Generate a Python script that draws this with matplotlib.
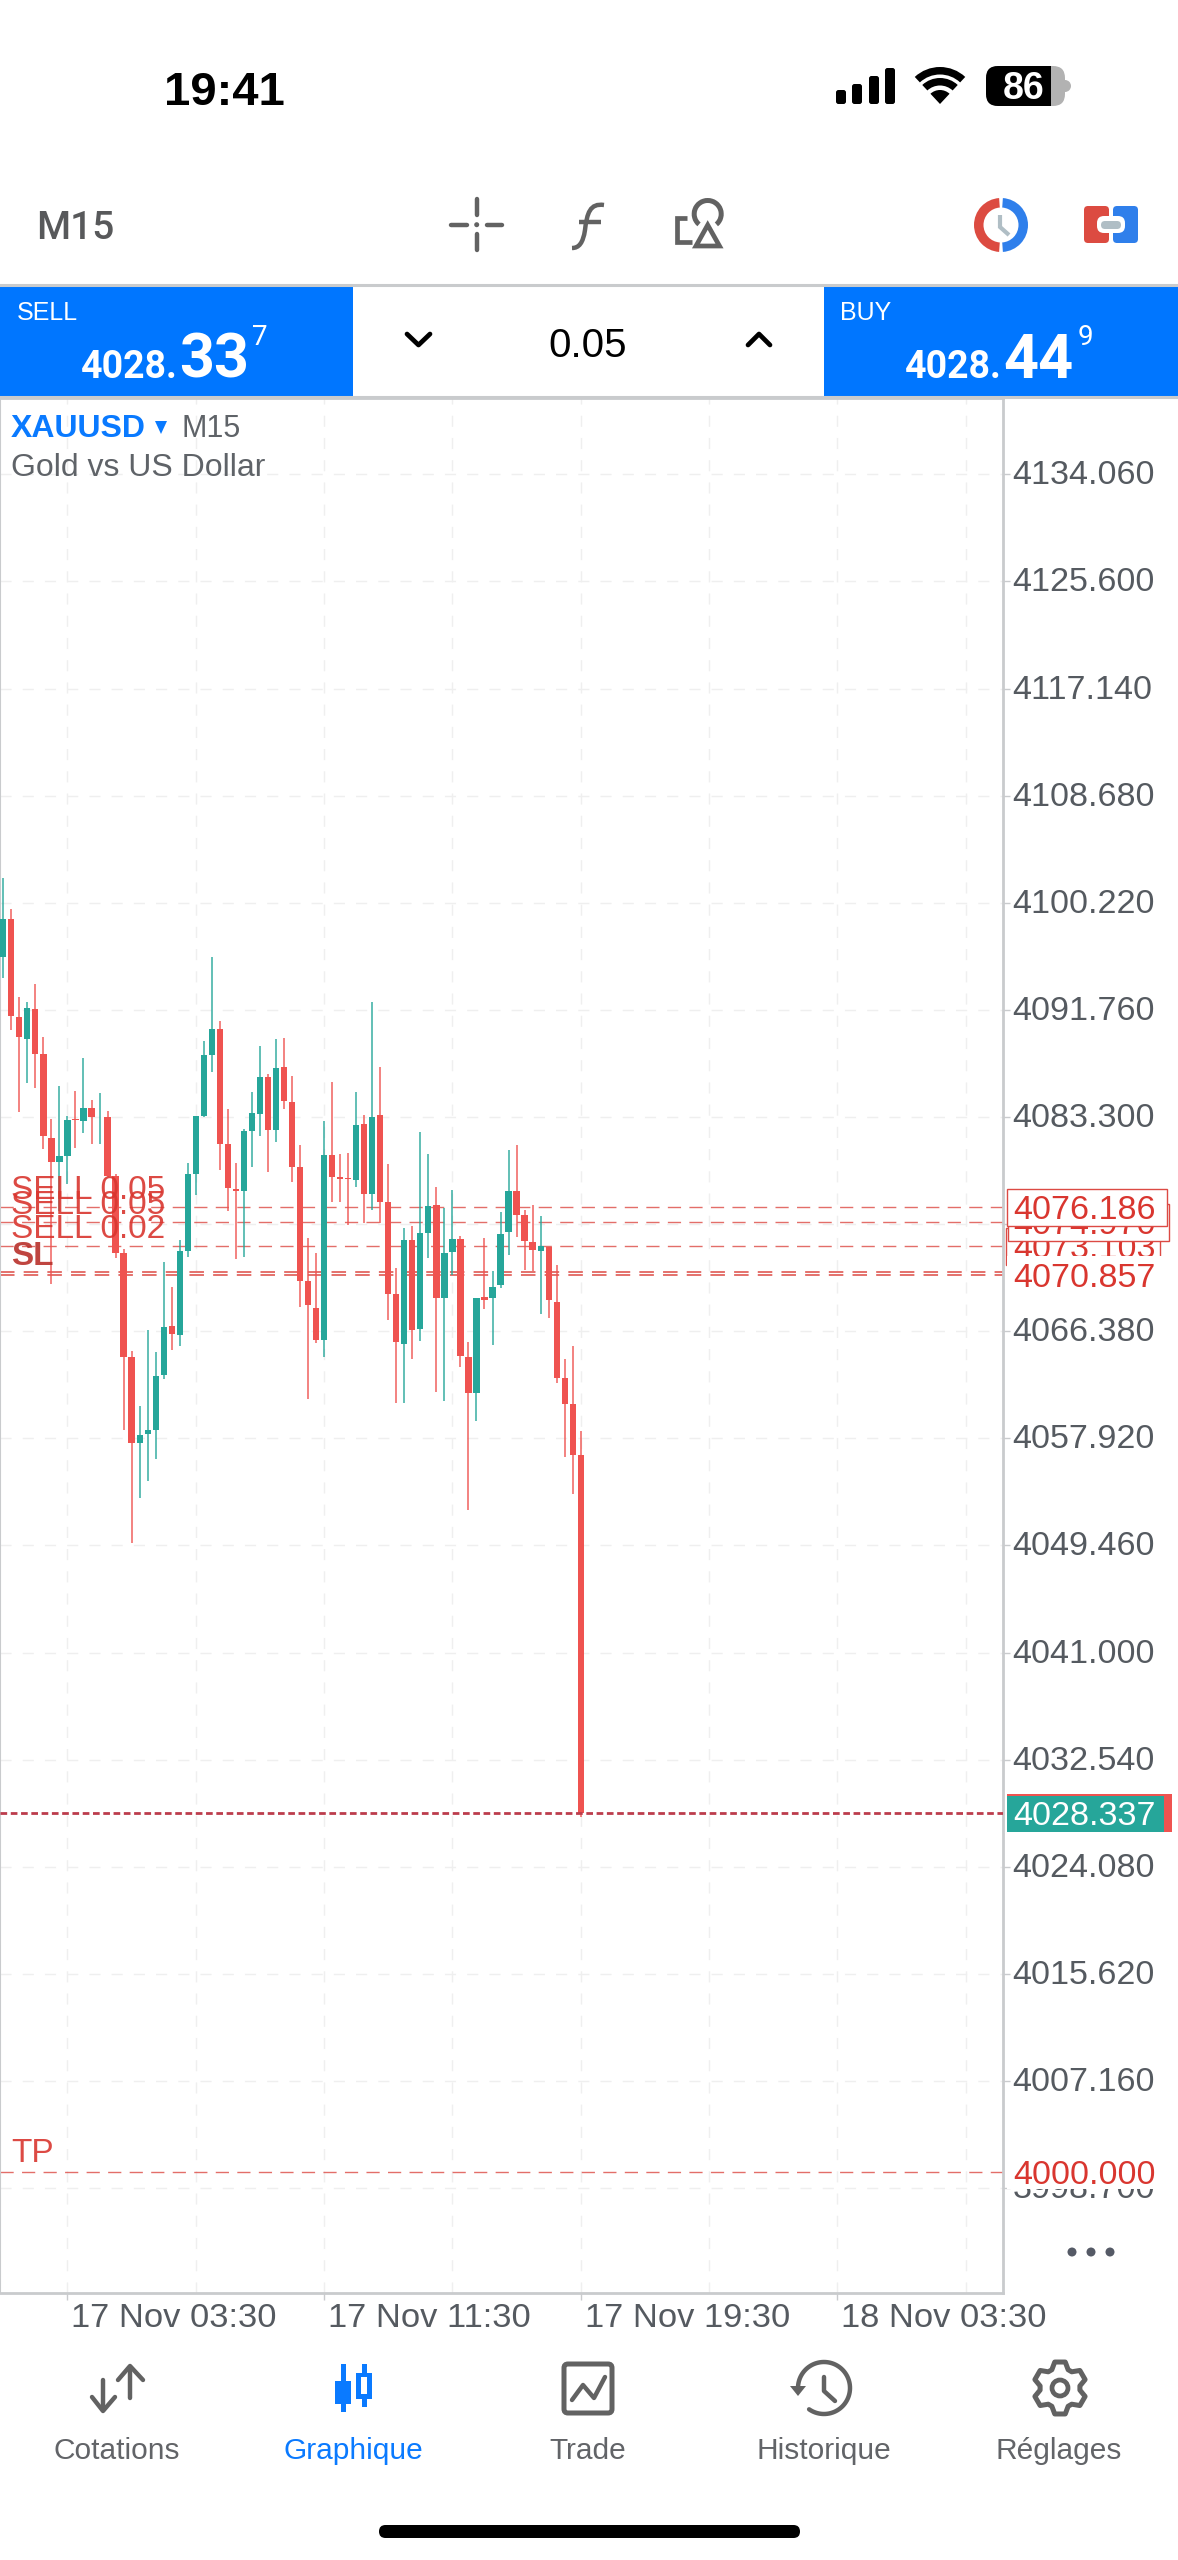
import numpy as np
import matplotlib
matplotlib.use('Agg')
import matplotlib.pyplot as plt
from matplotlib.patches import Rectangle, FancyBboxPatch, Wedge, Circle, Polygon, PathPatch
from matplotlib.path import Path
from matplotlib.transforms import blended_transform_factory, ScaledTranslation

plt.rcParams['font.family'] = ['Liberation Sans', 'DejaVu Sans']

OUTPUT_IMG = "out.png"
W, H = 1178, 2560

opens = [4095.90, 4098.95, 4091.18, 4089.47, 4091.83, 4088.31, 4081.67, 4079.78, 4080.25, 4083.15,
         4082.97, 4083.99, 4083.34, 4083.30, 4078.62, 4072.52, 4064.38, 4057.52, 4058.28, 4058.57,
         4062.93, 4066.78, 4066.09, 4072.73, 4078.76, 4083.34, 4088.20, 4090.23, 4081.16, 4077.60,
         4077.45, 4082.17, 4083.52, 4086.42, 4082.25, 4087.26, 4084.45, 4079.37, 4070.31, 4068.22,
         4065.72, 4080.33, 4078.52, 4078.46, 4078.34, 4082.74, 4077.21, 4083.46, 4076.56, 4069.31,
         4065.38, 4073.59, 4066.53, 4074.12, 4076.34, 4068.97, 4072.65, 4073.65, 4064.35, 4061.51,
         4069.06, 4068.97, 4070.03, 4074.18, 4077.46, 4075.56, 4073.43, 4072.68, 4073.03, 4068.72,
         4062.66, 4060.66, 4056.61]
highs = [4102.14, 4099.75, 4092.78, 4092.41, 4093.79, 4089.65, 4083.12, 4085.77, 4083.41, 4085.37,
         4087.98, 4084.61, 4085.22, 4083.77, 4078.76, 4072.88, 4064.82, 4060.46, 4066.49, 4064.75,
         4071.86, 4069.90, 4073.60, 4079.63, 4083.41, 4089.29, 4095.97, 4090.85, 4083.95, 4079.63,
         4082.39, 4085.26, 4088.89, 4086.68, 4089.44, 4089.51, 4086.55, 4081.11, 4073.78, 4072.53,
         4082.96, 4086.08, 4080.36, 4080.49, 4085.30, 4083.46, 4092.35, 4087.26, 4079.58, 4071.34,
         4074.53, 4074.68, 4082.11, 4080.36, 4077.80, 4076.09, 4077.55, 4073.93, 4065.50, 4069.03,
         4073.75, 4071.12, 4075.78, 4080.71, 4081.11, 4075.93, 4076.34, 4075.46, 4073.06, 4071.59,
         4064.22, 4065.19, 4058.51]
lows = [4094.30, 4090.16, 4083.70, 4085.95, 4085.62, 4080.79, 4070.08, 4075.89, 4078.00, 4080.87,
        4082.07, 4081.16, 4081.16, 4078.54, 4072.15, 4058.57, 4049.68, 4053.20, 4054.58, 4056.25,
        4062.57, 4064.89, 4065.18, 4072.26, 4077.16, 4083.30, 4086.89, 4079.09, 4075.89, 4072.08,
        4072.26, 4079.34, 4081.81, 4078.98, 4081.30, 4083.92, 4078.15, 4068.31, 4061.04, 4065.41,
        4064.32, 4076.59, 4076.62, 4074.78, 4077.80, 4074.93, 4075.93, 4074.93, 4067.28, 4060.73,
        4060.73, 4064.16, 4065.57, 4072.19, 4061.57, 4060.88, 4070.81, 4063.54, 4052.27, 4059.32,
        4068.16, 4065.25, 4069.78, 4072.37, 4073.84, 4071.25, 4071.12, 4067.75, 4067.44, 4062.29,
        4056.42, 4053.55, 4028.00]
closes = [4098.95, 4091.25, 4089.58, 4091.87, 4088.31, 4081.81, 4079.78, 4080.25, 4083.08, 4083.08,
          4083.99, 4083.30, 4083.41, 4078.62, 4072.52, 4064.31, 4057.56, 4058.21, 4058.61, 4062.82,
          4066.71, 4066.13, 4072.73, 4078.76, 4083.34, 4088.20, 4090.23, 4081.16, 4077.67, 4077.49,
          4082.17, 4083.59, 4086.42, 4082.25, 4087.18, 4084.55, 4079.33, 4070.31, 4068.41, 4065.72,
          4080.30, 4078.55, 4078.43, 4078.40, 4082.64, 4077.21, 4083.30, 4076.62, 4069.31, 4065.53,
          4073.59, 4066.47, 4074.15, 4076.27, 4068.97, 4072.59, 4073.65, 4064.44, 4061.51, 4069.00,
          4068.88, 4069.91, 4074.09, 4077.46, 4075.59, 4073.47, 4072.78, 4073.12, 4068.84, 4062.69,
          4060.66, 4056.64, 4028.337]

price_ticks = [4134.06, 4125.60, 4117.14, 4108.68, 4100.22, 4091.76, 4083.30, 4074.84, 4066.38,
               4057.92, 4049.46, 4041.00, 4032.54, 4024.08, 4015.62, 4007.16, 3998.70]
time_ticks = [8, 40, 72, 104]
time_labels = ['17 Nov 03:30', '17 Nov 11:30', '17 Nov 19:30', '18 Nov 03:30']
time_grid_minor = [24, 56, 88, 120]

sell_levels = [4076.186, 4074.970, 4073.103]
sell_labels = ['SELL 0.05', 'SELL 0.05', 'SELL 0.02']
sl_levels = [4070.857, 4071.060]
tp_level = 4000.000
bid_price = 4028.337

nav_labels = ['Cotations', 'Graphique', 'Trade', 'Historique', 'Réglages']

RED = '#EF5350'
GREEN = '#26A69A'
ORDER_RED = '#DC4A44'
TEXT_RED = '#D9362F'
TICK_GRAY = '#555A60'
ICON_GRAY = '#626262'
BLUE = '#0A7AFF'
PANEL_BLUE = '#0076FF'
LINE_GRAY = '#C9CBCD'
PRICE_FONT = ['Roboto', 'DejaVu Sans']

# price to pixel scale of the chart, used for tag heights only
PX_PER_PRICE = 12.66

fig = plt.figure(figsize=(W / 100, H / 100), dpi=100, facecolor='white')

# chart axes
ax = fig.add_axes([0, 1 - 2293 / H, 1003 / W, (2293 - 398) / H], zorder=1)
ui = fig.add_axes([0, 0, 1, 1], zorder=10)
ui.set_xlim(0, W)
ui.set_ylim(H, 0)
ui.axis('off')
ui.patch.set_alpha(0)

x = np.arange(len(opens))
o, h, l, c = map(np.array, (opens, highs, lows, closes))
up = c >= o
cols = np.where(up, GREEN, RED)

ax.vlines(x, l, h, colors=cols, linewidth=1.2, alpha=0.85, zorder=3)
ax.bar(x, np.abs(c - o), bottom=np.minimum(o, c), width=0.78, color=cols, linewidth=0, zorder=3.2)

ax.set_xlim(-0.41, 124.65)
ax.set_ylim(3990.41, 4140.09)
ax.set_axisbelow(True)

ax.yaxis.tick_right()
ax.set_yticks(price_ticks)
ax.set_yticklabels([f'{p:.3f}' for p in price_ticks], fontsize=24.6, color=TICK_GRAY)
ax.tick_params(axis='y', length=5, width=1, color=LINE_GRAY, pad=2)
ax.set_xticks(time_ticks)
ax.set_xticklabels(time_labels, fontsize=24.8, color=TICK_GRAY, ha='left')
ax.set_xticks(time_grid_minor, minor=True)
ax.tick_params(axis='x', which='major', length=5, width=1, color=LINE_GRAY, pad=2.5)
ax.tick_params(axis='x', which='minor', length=0)
shift = ScaledTranslation(4 / 100, 0, fig.dpi_scale_trans)
for lab in ax.get_xticklabels():
    lab.set_transform(lab.get_transform() + shift)
lift = ScaledTranslation(0, 2 / 100, fig.dpi_scale_trans)
for lab in ax.get_yticklabels():
    lab.set_transform(lab.get_transform() + lift)
ax.grid(True, which='both', color='#EFEFEF', linewidth=1, linestyle=(0, (8, 8)))

for name, sp in ax.spines.items():
    sp.set_color(LINE_GRAY)
    sp.set_linewidth(2 if name != 'left' else 1.5)

# order lines
dash = (0, (9.5, 6))
for lvl in sell_levels + [tp_level]:
    ax.axhline(lvl, color=ORDER_RED, linewidth=1, linestyle=dash, alpha=0.8, zorder=2)
for lvl in sl_levels:
    ax.axhline(lvl, color=ORDER_RED, linewidth=1.1, linestyle=dash, zorder=2)
ax.axhline(bid_price, color='#BC3C4C', linewidth=2, linestyle=(0, (2.4, 1.3)), zorder=3.5)

# labels and tags are placed in pixels across, price upward
mix = blended_transform_factory(ui.transData, ax.transData)


def order_label(text, level, off=6, weight='normal', color=TEXT_RED):
    ax.annotate(text, (11, level), xycoords=mix, xytext=(0, off), textcoords='offset points',
                fontsize=24, color=color, va='baseline', ha='left', fontweight=weight,
                alpha=0.9, zorder=4, annotation_clip=False)


for lab, lvl in zip(sell_labels, sell_levels):
    order_label(lab, lvl)
order_label('SL', sl_levels[0], off=7, weight='bold', color='#B8312B')
order_label('TP', tp_level, off=7)


def price_tag(level, z, edge=None, px0=1007, px1=1167, tall=37, color=TEXT_RED):
    hgt = tall / PX_PER_PRICE
    ax.add_patch(Rectangle((px0, level - hgt / 2), px1 - px0, hgt, transform=mix, clip_on=False,
                           facecolor='white', edgecolor=edge if edge else 'none', linewidth=1,
                           zorder=z))
    ax.text(1013, level, f'{level:.3f}', transform=mix, fontsize=24.6, color=color,
            va='center_baseline', ha='left', clip_on=False, zorder=z + 0.1)


price_tag(sell_levels[2], 5, edge=ORDER_RED, px0=1006, px1=1160)
price_tag(sl_levels[0], 6)
price_tag(sell_levels[1], 7, edge=ORDER_RED, px0=1008, px1=1169)
price_tag(sell_levels[0], 8, edge=ORDER_RED)
price_tag(tp_level, 6, tall=34)

tag_h = 38 / PX_PER_PRICE
ax.add_patch(Rectangle((1007, bid_price - tag_h / 2), 165, tag_h, transform=mix, clip_on=False,
                       facecolor=RED, linewidth=0, zorder=5))
ax.add_patch(Rectangle((1007, bid_price - tag_h / 2), 157, tag_h - 2 / PX_PER_PRICE, transform=mix,
                       clip_on=False, facecolor=GREEN, linewidth=0, zorder=5.1))
ax.text(1013, bid_price, f'{bid_price:.3f}', transform=mix, fontsize=24.6, color='white',
        va='center_baseline', ha='left', clip_on=False, zorder=5.2)


def txt(px, py, s, size, color='black', ha='left', va='baseline', **kw):
    ui.text(px, py, s, fontsize=size, color=color, ha=ha, va=va, **kw)


def rbox(x0, y0, x1, y1, r, color, **kw):
    p = FancyBboxPatch((x0, y0), x1 - x0, y1 - y0, boxstyle=f'round,pad=0,rounding_size={r}',
                       facecolor=color, edgecolor='none', linewidth=0, **kw)
    ui.add_patch(p)
    return p


def icon(xs, ys, color=ICON_GRAY, lw=3.2, cap='round', join='round'):
    ui.plot(xs, ys, color=color, linewidth=lw, solid_capstyle=cap, solid_joinstyle=join)


# status bar
txt(164, 105, '19:41', 34, fontweight='bold')
for x0, top in zip([836, 852, 869, 885], [90, 84, 76, 68]):
    rbox(x0, top, x0 + 10, 104, 2.5, 'black')
for r0, wid in [(37, 7.5), (26, 7.5), (14, 14)]:
    ui.add_patch(Wedge((940, 104), r0, 227, 313, width=wid, facecolor='black', linewidth=0))
rbox(986, 66, 1065, 106, 12, '#B2B2B2')
blk = rbox(986, 66, 1065, 106, 12, 'black')
blk.set_clip_path(Rectangle((986, 60), 65, 50, transform=ui.transData))
ui.add_patch(Wedge((1065, 86), 6, -90, 90, facecolor='#B2B2B2', linewidth=0))
txt(1024, 99, '86', 27, color='white', ha='center', fontweight='bold')

# toolbar
txt(36, 239, 'M15', 28, color='#58595B', family=PRICE_FONT, fontweight='medium')
icon([476.7, 476.7], [199, 215])
icon([476.7, 476.7], [234, 250])
icon([451, 467], [224.7, 224.7])
icon([487, 502], [224.7, 224.7])
ui.add_patch(Circle((476.7, 224.7), 2.5, color=ICON_GRAY, linewidth=0))
ui.add_patch(PathPatch(Path([(604, 205), (590, 203), (587, 213), (585, 230), (583, 243), (579, 248), (572, 248)],
                            [Path.MOVETO, Path.CURVE4, Path.CURVE4, Path.CURVE4, Path.CURVE4, Path.CURVE4, Path.CURVE4]),
                       facecolor='none', edgecolor=ICON_GRAY, linewidth=3.2))
icon([579, 601], [222, 222], cap='butt')
ui.add_patch(Wedge((707.7, 214), 16, 130, 50, width=5, facecolor=ICON_GRAY, linewidth=0))
ui.add_patch(Polygon([(707.7, 225), (696, 246), (719.5, 246)], closed=True, facecolor='white',
                     edgecolor=ICON_GRAY, linewidth=3.4, joinstyle='miter', zorder=3))
icon([687, 677, 677, 692], [218, 218, 242, 242], lw=3.4, cap='butt', join='miter')

ui.add_patch(Wedge((1001, 225), 27, 94, 266, width=9.5, facecolor='#DC4B41', linewidth=0))
ui.add_patch(Wedge((1001, 225), 27, -86, 86, width=9.5, facecolor='#2F7FEB', linewidth=0))
icon([1000, 1000, 1009], [215, 227, 235], color='#B0BEC5', lw=3, cap='butt', join='miter')

rbox(1084, 206, 1109, 243, 4, '#DC4B41')
rbox(1113, 206, 1138, 243, 4, '#2F7FEB')
rbox(1097, 216, 1125, 233, 7, 'white', zorder=3)
rbox(1101, 221, 1121, 229, 4, '#B0BEC5', zorder=4)

# trade panel
ui.plot([0, W], [285, 285], color=LINE_GRAY, linewidth=2.2)
ui.plot([0, W], [397, 397], color=LINE_GRAY, linewidth=2.2)
ui.add_patch(Rectangle((0, 287), 353, 109, facecolor=PANEL_BLUE, linewidth=0))
ui.add_patch(Rectangle((824, 287), 354, 109, facecolor=PANEL_BLUE, linewidth=0))
txt(17, 320, 'SELL', 18, color='white')
txt(81, 378, '4028.', 27, color='white', family=PRICE_FONT, fontweight='bold')
txt(179, 378, '33', 44, color='white', family=PRICE_FONT, fontweight='bold')
txt(252, 345, '7', 20, color='white', family=PRICE_FONT)
txt(840, 320, 'BUY', 18, color='white')
txt(905, 378, '4028.', 27, color='white', family=PRICE_FONT, fontweight='bold')
txt(1003, 378, '44', 44, color='white', family=PRICE_FONT, fontweight='bold')
txt(1078, 345, '9', 20, color='white', family=PRICE_FONT)
txt(588, 357, '0.05', 29, ha='center')
icon([407, 418.5, 430], [334, 345, 334], color='black', lw=3.4)
icon([748, 759, 770], [345, 334, 345], color='black', lw=3.4)

# symbol header
txt(11, 437, 'XAUUSD', 23, color=BLUE, fontweight='bold')
ui.add_patch(Polygon([(155, 421), (167, 421), (161, 434)], closed=True, facecolor=BLUE, linewidth=0))
txt(182, 437, 'M15', 22, color='#5F6368')
txt(11, 476, 'Gold vs US Dollar', 23, color='#5F6368')

# more dots
for dx in [1072, 1091, 1110]:
    ui.add_patch(Circle((dx, 2252), 4.5, color='#555A66', linewidth=0))

# bottom nav
for cx, lab in zip([117, 353, 588, 824, 1059], nav_labels):
    txt(cx, 2459, lab, 21.5, color=BLUE if lab == 'Graphique' else '#626468', ha='center')

icon([103, 103], [2380, 2410])
icon([92, 103, 115], [2397, 2411, 2397])
icon([130, 130], [2367, 2398])
icon([118, 130, 143], [2380, 2366, 2380])

ui.add_patch(Rectangle((340.5, 2364), 5, 48, facecolor=BLUE, linewidth=0))
ui.add_patch(Rectangle((335, 2381), 16, 23, facecolor=BLUE, linewidth=0))
ui.add_patch(Rectangle((361.5, 2364), 5, 43, facecolor=BLUE, linewidth=0))
ui.add_patch(Rectangle((356, 2373), 16, 26, facecolor=BLUE, linewidth=0))
ui.add_patch(Rectangle((361, 2377), 6, 17, facecolor='white', linewidth=0))

p = FancyBboxPatch((564, 2364), 48, 49, boxstyle='round,pad=0,rounding_size=4', facecolor='white',
                   edgecolor=ICON_GRAY, linewidth=3.6)
ui.add_patch(p)
icon([572, 583, 594, 605], [2400, 2385, 2398, 2377])

ang = np.radians(np.linspace(125, -180, 80))
icon(824 + 26 * np.cos(ang), 2388 + 26 * np.sin(ang))
ui.add_patch(Polygon([(790, 2386), (806, 2386), (798, 2396)], closed=True, facecolor=ICON_GRAY, linewidth=0))
icon([824, 824, 835], [2377, 2391, 2401])

teeth = []
for k in range(6):
    a0 = np.radians(90 + 60 * k)
    for da, rad in [(-0.42, 20), (-0.20, 26.5), (0.20, 26.5), (0.42, 20)]:
        teeth.append((1060 + rad * np.cos(a0 + da), 2388 + rad * np.sin(a0 + da)))
ui.add_patch(Polygon(teeth, closed=True, facecolor='white', edgecolor=ICON_GRAY, linewidth=3.6, joinstyle='round'))
ui.add_patch(Circle((1060, 2388), 8, facecolor='white', edgecolor=ICON_GRAY, linewidth=3.4))

rbox(379, 2525, 800, 2538, 6.5, 'black')

fig.savefig(OUTPUT_IMG, dpi=100)
